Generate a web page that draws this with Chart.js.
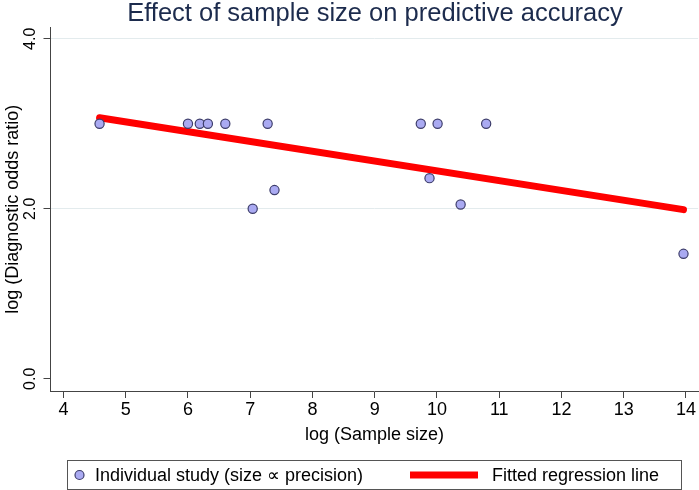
<!DOCTYPE html>
<html>
<head>
<meta charset="utf-8">
<script src="https://cdn.jsdelivr.net/npm/chart.js@4"></script>
<style>
  html, body { margin: 0; padding: 0; background: #fff; }
</style>
</head>
<body>
<canvas id="chart" width="699" height="490"></canvas>
<script>
// studies: log(sample size) vs log(diagnostic odds ratio)
var logSampleSize = [4.58, 6.00, 6.19, 6.32, 6.60, 7.28, 9.74, 10.01, 10.79, 7.04, 7.39, 9.88, 10.38, 13.96];
var logDOR        = [3.00, 3.00, 3.00, 3.00, 3.00, 3.00, 3.00, 3.00, 3.00, 2.00, 2.22, 2.36, 2.05, 1.47];

// fitted regression line end points
var fitX = [4.58, 13.96];
var fitY = [3.07, 1.99];

var xTicks = [4, 5, 6, 7, 8, 9, 10, 11, 12, 13, 14];
var yTicks = [0, 2, 4];
var yTickLabels = ['0.0', '2.0', '4.0'];

Chart.defaults.font.family = '"Liberation Sans", Arial, Helvetica, sans-serif';

// stata-like boxed legend under the x axis title, title centred over the plot
var boxedLegend = {
  id: 'boxedLegend',
  afterLayout: function (chart) {
    if (chart.titleBlock) chart.titleBlock.left = chart.chartArea.left;
  },
  afterDraw: function (chart) {
    var ctx = chart.ctx;
    var ds = chart.data.datasets;
    var top = 460.5, h = 29, mid = top + h / 2;
    ctx.save();
    ctx.strokeStyle = '#555';
    ctx.lineWidth = 1;
    ctx.strokeRect(67.5, top, 614, h);

    // scatter item
    ctx.beginPath();
    ctx.arc(79.5, mid, 4.5, 0, Math.PI * 2);
    ctx.fillStyle = ds[0].backgroundColor;
    ctx.fill();
    ctx.lineWidth = 1.2;
    ctx.strokeStyle = ds[0].borderColor;
    ctx.stroke();

    // line item
    ctx.beginPath();
    ctx.moveTo(410, mid);
    ctx.lineTo(478, mid);
    ctx.lineWidth = 7;
    ctx.strokeStyle = ds[1].borderColor;
    ctx.stroke();

    ctx.fillStyle = '#000';
    ctx.font = '18px "Liberation Sans", Arial, sans-serif';
    ctx.textBaseline = 'middle';
    ctx.fillText(ds[0].label, 95, mid + 1);
    ctx.fillText(ds[1].label, 492, mid + 1);
    ctx.restore();
  }
};

new Chart(document.getElementById('chart'), {
  type: 'scatter',
  data: {
    datasets: [{
      label: 'Individual study (size \u221D precision)',
      data: logSampleSize.map(function (x, i) { return { x: x, y: logDOR[i] }; }),
      backgroundColor: '#aaaaf2',
      borderColor: '#3d3d6b',
      borderWidth: 1.2,
      pointRadius: 4.6,
    }, {
      type: 'line',
      label: 'Fitted regression line',
      data: fitX.map(function (x, i) { return { x: x, y: fitY[i] }; }),
      borderColor: '#ff0000',
      borderWidth: 7,
      borderCapStyle: 'round',
      pointRadius: 0,
      fill: false,
    }],
  },
  options: {
    responsive: false,
    animation: false,
    devicePixelRatio: 1,
    layout: { autoPadding: false, padding: { left: 0, right: 0, top: 0, bottom: 44.2 } },
    plugins: {
      legend: { display: false },
      tooltip: { enabled: false },
      title: {
        display: true,
        text: 'Effect of sample size on predictive accuracy',
        color: '#1c2b4d',
        font: { size: 25.5, weight: 'normal', lineHeight: 1.08 },
        padding: { top: 0, bottom: 0 },
      },
    },
    scales: {
      x: {
        type: 'linear',
        min: 3.8,
        max: 14.195,
        afterBuildTicks: function (s) { s.ticks = xTicks.map(function (v) { return { value: v }; }); },
        ticks: {
          color: '#000',
          font: { size: 18, lineHeight: 1 },
          padding: 3,
          maxRotation: 0,
          autoSkip: false,
          callback: function (v) { return v; },
        },
        grid: { drawOnChartArea: false, tickLength: 7, tickColor: '#444' },
        border: { color: '#444', width: 1 },
        title: {
          display: true,
          text: 'log (Sample size)',
          color: '#000',
          font: { size: 18 },
          padding: { top: 2.2, bottom: 0 },
        },
      },
      y: {
        min: -0.144,
        max: 4.132,
        afterBuildTicks: function (s) { s.ticks = yTicks.map(function (v) { return { value: v }; }); },
        ticks: {
          color: '#000',
          font: { size: 16, lineHeight: 1 },
          padding: 1.7,
          minRotation: 90,
          maxRotation: 90,
          crossAlign: 'center',
          autoSkip: false,
          callback: function (v, i) { return yTickLabels[i]; },
        },
        grid: {
          color: function (c) { return c.tick && c.tick.value === 0 ? 'rgba(0,0,0,0)' : '#e3ebed'; },
          tickColor: '#444',
          tickLength: 7.5,
        },
        border: { color: '#444', width: 1 },
        title: {
          display: true,
          text: 'log (Diagnostic odds ratio)',
          color: '#000',
          font: { size: 18 },
          padding: { top: 2.5, bottom: 0 },
        },
      },
    },
  },
  plugins: [boxedLegend],
});
</script>
</body>
</html>
